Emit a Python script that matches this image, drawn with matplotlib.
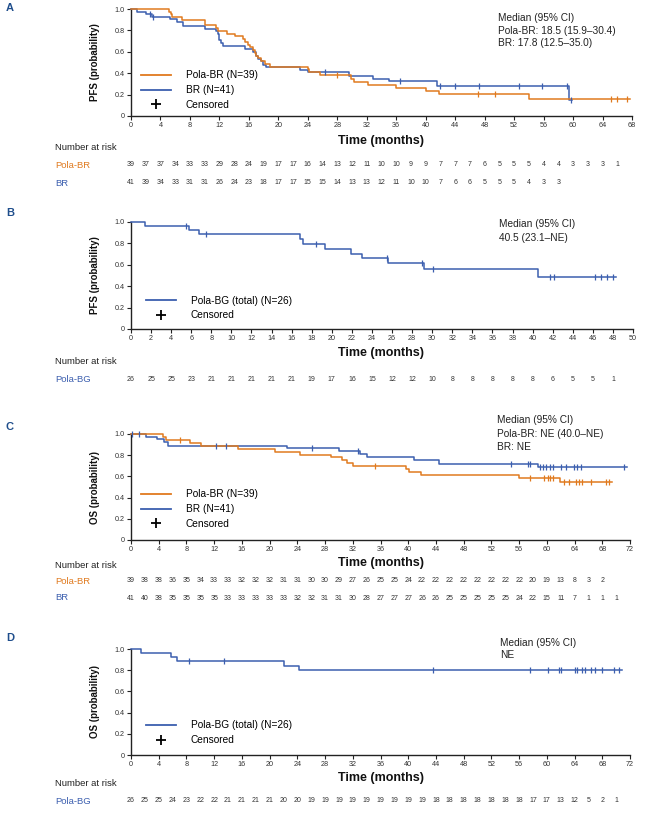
import numpy as np
import matplotlib
matplotlib.use("Agg")
import matplotlib.pyplot as plt
from matplotlib.lines import Line2D
from matplotlib.transforms import blended_transform_factory

plt.rcParams['font.family'] = ['Liberation Sans', 'DejaVu Sans']

ORANGE = '#E07A1F'
BLUE = '#3C5FAF'
DARK = '#222222'
LETTER = '#1F4E8C'

# ---------------- data ----------------
# Panel A - PFS, Pola-BR vs BR
a_pola_t = [0, 5.1, 5.4, 5.6, 6.9, 10.0, 11.6, 11.8, 13.0, 14.1, 15.2, 15.5, 15.9, 16.2,
            16.5, 16.8, 17.0, 17.3, 17.6, 18.2, 18.8, 24.0, 24.1, 25.6, 29.8, 30.3, 32.1,
            36.0, 40.1, 41.8, 54.0]
a_pola_s = [1.0, 0.974, 0.949, 0.923, 0.897, 0.846, 0.82, 0.795, 0.769, 0.744, 0.718, 0.692,
            0.667, 0.641, 0.615, 0.59, 0.564, 0.538, 0.513, 0.487, 0.462, 0.435, 0.409, 0.38,
            0.35, 0.32, 0.29, 0.259, 0.234, 0.203, 0.162]
a_pola_end = 67.7
a_pola_cens = [27.9, 47.1, 49.4, 65.2, 66.0, 67.3]

a_br_t = [0, 0.8, 2.1, 2.8, 5.3, 6.2, 7.0, 10.0, 11.6, 11.8, 11.9, 12.0, 12.2, 12.5, 15.5,
          16.6, 16.9, 17.2, 17.6, 17.9, 18.3, 23.0, 24.0, 29.6, 32.9, 35.0, 41.6, 59.5]
a_br_s = [1.0, 0.976, 0.951, 0.927, 0.902, 0.877, 0.84, 0.815, 0.79, 0.764, 0.738, 0.71,
          0.685, 0.655, 0.625, 0.595, 0.565, 0.535, 0.51, 0.48, 0.458, 0.43, 0.41, 0.377,
          0.35, 0.324, 0.283, 0.15]
a_br_end = 59.8
a_br_cens = [2.6, 3.0, 26.3, 36.5, 41.9, 44.0, 47.3, 52.6, 55.8, 59.2, 59.7]

a_risk_pola = [39, 37, 37, 34, 33, 33, 29, 28, 24, 19, 17, 17, 16, 14, 13, 12, 11, 10, 10, 9,
               9, 7, 7, 7, 6, 5, 5, 5, 4, 4, 3, 3, 3, 1]
a_risk_br = [41, 39, 34, 33, 31, 31, 26, 24, 23, 18, 17, 17, 15, 15, 14, 13, 13, 12, 11, 10,
             10, 7, 6, 6, 5, 5, 5, 4, 3, 3]

# Panel B - PFS, Pola-BG
b_t = [0, 1.4, 5.75, 6.8, 16.8, 17.1, 19.3, 21.9, 23.0, 25.6, 29.2, 40.5]
b_s = [1.0, 0.962, 0.923, 0.885, 0.84, 0.795, 0.75, 0.705, 0.66, 0.615, 0.56, 0.49]
b_end = 48.3
b_cens = [5.5, 7.5, 18.4, 25.5, 29.0, 30.1, 41.7, 42.1, 46.2, 46.8, 47.4, 48.0]
b_risk = [26, 25, 25, 23, 21, 21, 21, 21, 21, 19, 17, 16, 15, 12, 12, 10, 8, 8, 8, 8, 8, 6,
          5, 5, 1]

# Panel C - OS, Pola-BR vs BR
c_pola_t = [0, 4.6, 5.0, 8.5, 10.1, 15.4, 20.8, 24.4, 28.8, 30.4, 31.1, 32.0, 39.7, 40.1,
            41.8, 56.0, 61.9]
c_pola_s = [1.0, 0.974, 0.946, 0.918, 0.89, 0.862, 0.834, 0.806, 0.78, 0.755, 0.73, 0.70,
            0.672, 0.643, 0.613, 0.588, 0.545]
c_pola_end = 69.4
c_pola_cens = [7.0, 35.2, 57.6, 59.6, 60.1, 60.5, 60.9, 62.5, 63.2, 64.2, 64.6, 65.1, 66.4,
               68.6, 69.0]

c_br_t = [0, 2.2, 3.8, 4.7, 5.3, 22.5, 30.0, 33.0, 34.1, 40.8, 44.4, 58.7]
c_br_s = [1.0, 0.975, 0.951, 0.926, 0.89, 0.865, 0.835, 0.81, 0.786, 0.75, 0.72, 0.686]
c_br_end = 71.5
c_br_cens = [0.2, 1.1, 12.2, 13.7, 26.1, 32.8, 54.8, 57.3, 57.6, 59.0, 59.4, 59.9, 60.4,
             60.9, 62.0, 62.8, 63.9, 64.4, 64.9, 71.1]

c_risk_pola = [39, 38, 38, 36, 35, 34, 33, 33, 32, 32, 32, 31, 31, 30, 30, 29, 27, 26, 25, 25,
               24, 22, 22, 22, 22, 22, 22, 22, 22, 20, 19, 13, 8, 3, 2]
c_risk_br = [41, 40, 38, 35, 35, 35, 35, 33, 33, 33, 33, 33, 32, 32, 31, 31, 30, 28, 27, 27,
             27, 26, 26, 25, 25, 25, 25, 25, 24, 22, 15, 11, 7, 1, 1, 1]

# Panel D - OS, Pola-BG
d_t = [0, 1.4, 5.8, 6.7, 22.1, 24.3]
d_s = [1.0, 0.962, 0.923, 0.885, 0.84, 0.80]
d_end = 70.9
d_cens = [8.3, 13.4, 43.6, 57.6, 60.2, 61.7, 62.0, 64.0, 64.3, 65.1, 65.5, 66.4, 67.0, 68.0,
          69.7, 70.4]
d_risk = [26, 25, 25, 24, 23, 22, 22, 21, 21, 21, 21, 20, 20, 19, 19, 19, 19, 19, 19, 19, 19,
          19, 18, 18, 18, 18, 18, 18, 18, 17, 17, 13, 12, 5, 2, 1]

# ---------------- figure ----------------
W, H = 654, 814
fig = plt.figure(figsize=(W / 100, H / 100), dpi=100)


def fx(px):
    return px / W


def fy(py):
    return 1 - py / H


def km(ax, t, s, end, cens, color):
    tt = list(t) + [end]
    ss = list(s) + [s[-1]]
    ax.step(tt, ss, where='post', color=color, lw=1.1, clip_on=False, zorder=3)
    idx = np.searchsorted(t, cens, side='right') - 1
    ax.plot(cens, np.array(s)[idx], ls='none', marker='|', ms=4, mew=0.9,
            color=color, clip_on=False, zorder=4)


def panel(top, bottom, xmax, step, ylabel, letter, letter_y, right=631):
    ax = fig.add_axes([fx(131), fy(bottom), fx(right - 131), (bottom - top) / H])
    ax.set_xlim(0, xmax)
    ax.set_ylim(0, 1.0)
    ax.set_xticks(np.arange(0, xmax + 0.1, step))
    ax.set_yticks([0, 0.2, 0.4, 0.6, 0.8, 1.0])
    ax.set_yticklabels(['0', '0.2', '0.4', '0.6', '0.8', '1.0'])
    for sp in ['top', 'right']:
        ax.spines[sp].set_visible(False)
    for sp in ['left', 'bottom']:
        ax.spines[sp].set_color(DARK)
        ax.spines[sp].set_linewidth(1.0)
    ax.tick_params(length=3, width=0.8, pad=1.5, labelsize=5.2, colors=DARK,
                   labelcolor='#333333')
    fig.text(fx(95), fy((top + bottom) / 2), ylabel, rotation=90, ha='center',
             va='center', fontsize=7, fontweight='bold', color='#111111')
    fig.text(fx(10), fy(letter_y), letter, ha='center', va='center', fontsize=8,
             fontweight='bold', color=LETTER)
    return ax


def risk(ax, rows, labels, colors, time_y, nar_y, row_ys):
    fig.text(fx(381), fy(time_y), 'Time (months)', ha='center', va='center',
             fontsize=9, fontweight='bold', color='#111111')
    fig.text(fx(55), fy(nar_y), 'Number at risk', ha='left', va='center',
             fontsize=6.8, color='#222222')
    tr = blended_transform_factory(ax.transData, fig.transFigure)
    for vals, lab, col, ry in zip(rows, labels, colors, row_ys):
        fig.text(fx(55), fy(ry), lab, ha='left', va='center', fontsize=6.8, color=col)
        for i, v in enumerate(vals):
            ax.text(i * 2, fy(ry), str(v), transform=tr, ha='center', va='center',
                    fontsize=5, color='#333333')


def legend(ax, names, colors, x, y_first):
    handles = [Line2D([], [], color=c, lw=1.3) for c in colors]
    handles.append(Line2D([], [], ls='none', marker='+', ms=7, mew=1.3, color='k'))
    ax.legend(handles, names + ['Censored'], loc='upper left',
              bbox_to_anchor=(fx(x), fy(y_first - 4.5)), bbox_transform=fig.transFigure,
              frameon=False, fontsize=7.3, handlelength=3.0, handletextpad=1.4,
              labelspacing=0.47, borderpad=0, borderaxespad=0)


def medians(lines, x, ys):
    for txt, yy in zip(lines, ys):
        fig.text(fx(x), fy(yy), txt, ha='left', va='center', fontsize=7.3, color='#222222')


# Panel A
axA = panel(9, 116, 68, 4, 'PFS (probability)', 'A', 8, right=632)
km(axA, a_br_t, a_br_s, a_br_end, a_br_cens, BLUE)
km(axA, a_pola_t, a_pola_s, a_pola_end, a_pola_cens, ORANGE)
legend(axA, ['Pola-BR (N=39)', 'BR (N=41)'], [ORANGE, BLUE], 141, 75)
medians(['Median (95% CI)', 'Pola-BR: 18.5 (15.9\u201330.4)', 'BR: 17.8 (12.5\u201335.0)'],
        498, [18, 31, 43])
risk(axA, [a_risk_pola, a_risk_br], ['Pola-BR', 'BR'], [ORANGE, BLUE], 141, 148, [165, 183])

# Panel B
axB = panel(222, 329, 50, 2, 'PFS (probability)', 'B', 213, right=633)
km(axB, b_t, b_s, b_end, b_cens, BLUE)
legend(axB, ['Pola-BG (total) (N=26)'], [BLUE], 146, 300)
medians(['Median (95% CI)', '40.5 (23.1\u2013NE)'], 499, [224, 238])
risk(axB, [b_risk], ['Pola-BG'], [BLUE], 353, 362, [379])

# Panel C
axC = panel(434, 540, 72, 4, 'OS (probability)', 'C', 427, right=630)
km(axC, c_br_t, c_br_s, c_br_end, c_br_cens, BLUE)
km(axC, c_pola_t, c_pola_s, c_pola_end, c_pola_cens, ORANGE)
legend(axC, ['Pola-BR (N=39)', 'BR (N=41)'], [ORANGE, BLUE], 141, 494)
medians(['Median (95% CI)', 'Pola-BR: NE (40.0\u2013NE)', 'BR: NE'], 497, [420, 434, 447])
risk(axC, [c_risk_pola, c_risk_br], ['Pola-BR', 'BR'], [ORANGE, BLUE], 563, 565, [581, 598])

# Panel D
axD = panel(649, 755, 72, 4, 'OS (probability)', 'D', 638, right=630)
km(axD, d_t, d_s, d_end, d_cens, BLUE)
legend(axD, ['Pola-BG (total) (N=26)'], [BLUE], 146, 725)
medians(['Median (95% CI)', 'NE'], 500, [643, 655])
risk(axD, [d_risk], ['Pola-BG'], [BLUE], 778, 783, [801])

fig.savefig('out.png', dpi=100)
